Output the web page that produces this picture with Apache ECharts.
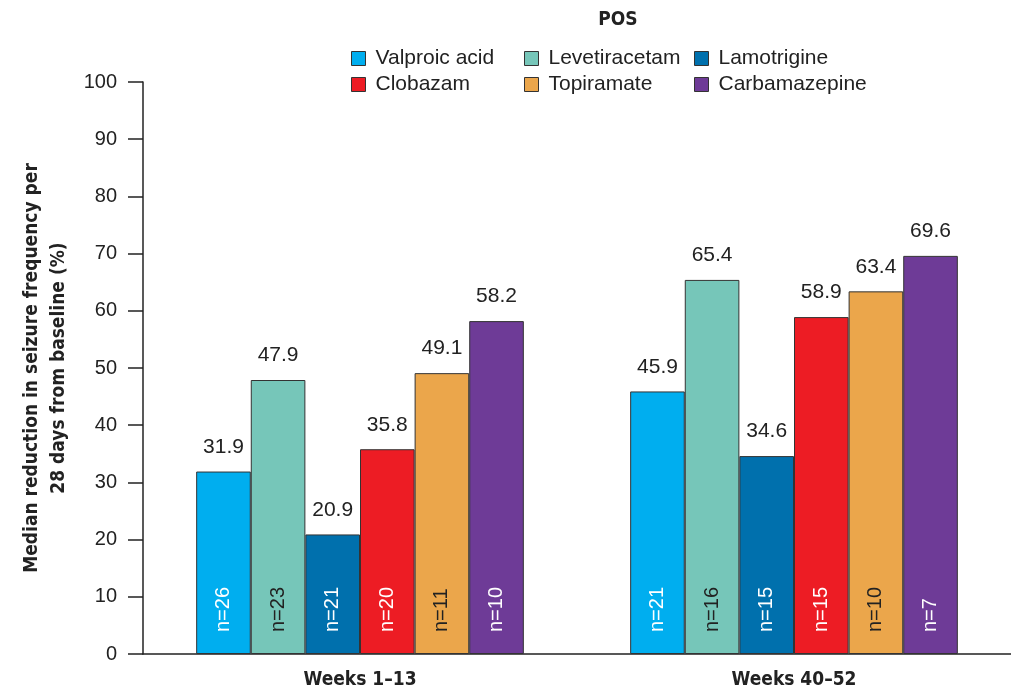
<!DOCTYPE html>
<html>
<head>
<meta charset="utf-8">
<script src="https://cdn.jsdelivr.net/npm/echarts@6/dist/echarts.min.js"></script>
<style>
    html, body { margin: 0; padding: 0; background: #fff; }
    #chart { width: 1011px; height: 694px; }
</style>
</head>
<body>
<div id="chart"></div>
<script>
const categories = ['Weeks 1\u201313', 'Weeks 40\u201352'];
const drugs = ['Valproic acid', 'Levetiracetam', 'Lamotrigine', 'Clobazam', 'Topiramate', 'Carbamazepine'];
const colors = ['#00aeef', '#76c6b9', '#0070ad', '#ed1c24', '#eba64b', '#6e3b97'];
const innerTextColors = ['#fff', '#222', '#fff', '#fff', '#222', '#fff'];

// median reduction (%) per drug, [weeks 1-13, weeks 40-52]
const valproic = [31.9, 45.9];
const levetiracetam = [47.9, 65.4];
const lamotrigine = [20.9, 34.6];
const clobazam = [35.8, 58.9];
const topiramate = [49.1, 63.4];
const carbamazepine = [58.2, 69.6];
const values = [valproic, levetiracetam, lamotrigine, clobazam, topiramate, carbamazepine];

// patient counts
const nValproic = [26, 21];
const nLevetiracetam = [23, 16];
const nLamotrigine = [21, 15];
const nClobazam = [20, 15];
const nTopiramate = [11, 10];
const nCarbamazepine = [10, 7];
const counts = [nValproic, nLevetiracetam, nLamotrigine, nClobazam, nTopiramate, nCarbamazepine];

const yTicks = { min: 0, max: 100, interval: 10 };

const narrow = "'Liberation Sans Narrow', 'DejaVu Sans Condensed', sans-serif";
const regular = "'Liberation Sans', Arial, sans-serif";

const chart = echarts.init(document.getElementById('chart'));

const series = [];
drugs.forEach((name, i) => {
    series.push({
        name: name,
        type: 'bar',
        stack: 's' + i,
        data: values[i],
        itemStyle: { color: colors[i], borderColor: '#333', borderWidth: 1 },
        label: {
            show: true,
            position: 'insideBottom',
            rotate: 90,
            align: 'left',
            verticalAlign: 'middle',
            distance: 22,
            fontFamily: regular,
            fontSize: 20,
            color: innerTextColors[i],
            formatter: p => 'n=' + counts[i][p.dataIndex]
        }
    });
    // zero-height bar on top, only carries the value label
    series.push({
        name: name + '_top',
        type: 'bar',
        stack: 's' + i,
        data: values[i].map(() => 0),
        itemStyle: { color: 'transparent', borderWidth: 0 },
        label: {
            show: true,
            position: 'top',
            distance: 14,
            fontFamily: regular,
            fontSize: 21,
            color: '#222',
            formatter: p => values[i][p.dataIndex].toFixed(1)
        }
    });
});

const legendCommon = {
    orient: 'vertical',
    top: 43,
    itemWidth: 14,
    itemHeight: 14,
    itemGap: 5,
    icon: 'rect',
    selectedMode: false,
    itemStyle: { borderColor: '#333', borderWidth: 1 },
    textStyle: { fontFamily: regular, fontSize: 21, color: '#222', padding: [0, 0, 0, 5] }
};

const option = {
    backgroundColor: '#fff',
    animation: false,
    title: {
        text: 'POS',
        left: 613,
        top: 6,
        textAlign: 'center',
        textStyle: { fontFamily: narrow, fontWeight: 'bold', fontSize: 19, color: '#222' }
    },
    legend: [
        Object.assign({}, legendCommon, { left: 346, data: [drugs[0], drugs[3]] }),
        Object.assign({}, legendCommon, { left: 519, data: [drugs[1], drugs[4]] }),
        Object.assign({}, legendCommon, { left: 689, data: [drugs[2], drugs[5]] })
    ],
    grid: { left: 143, right: -8, top: 82, bottom: 40, containLabel: false },
    xAxis: {
        type: 'category',
        data: categories,
        axisLine: { lineStyle: { color: '#222', width: 1.5 } },
        axisTick: { show: false },
        axisLabel: {
            margin: 17,
            fontFamily: narrow,
            fontWeight: 'bold',
            fontSize: 19,
            color: '#222'
        }
    },
    yAxis: {
        type: 'value',
        min: yTicks.min,
        max: yTicks.max,
        interval: yTicks.interval,
        name: 'Median reduction in seizure frequency per\n28 days from baseline (%)',
        nameLocation: 'middle',
        nameGap: 66,
        nameTextStyle: {
            fontFamily: narrow,
            fontWeight: 'bold',
            fontSize: 19,
            color: '#222',
            lineHeight: 27
        },
        axisLine: { show: true, lineStyle: { color: '#222', width: 1.5 } },
        axisTick: { show: true, inside: false, length: 15, lineStyle: { color: '#222', width: 1.5 } },
        splitLine: { show: false },
        axisLabel: {
            margin: 26,
            fontFamily: regular,
            fontSize: 20,
            color: '#222'
        }
    },
    series: series.map(s => Object.assign(s, { barGap: '0%', barCategoryGap: '24.5%' }))
};

chart.setOption(option);
</script>
</body>
</html>
